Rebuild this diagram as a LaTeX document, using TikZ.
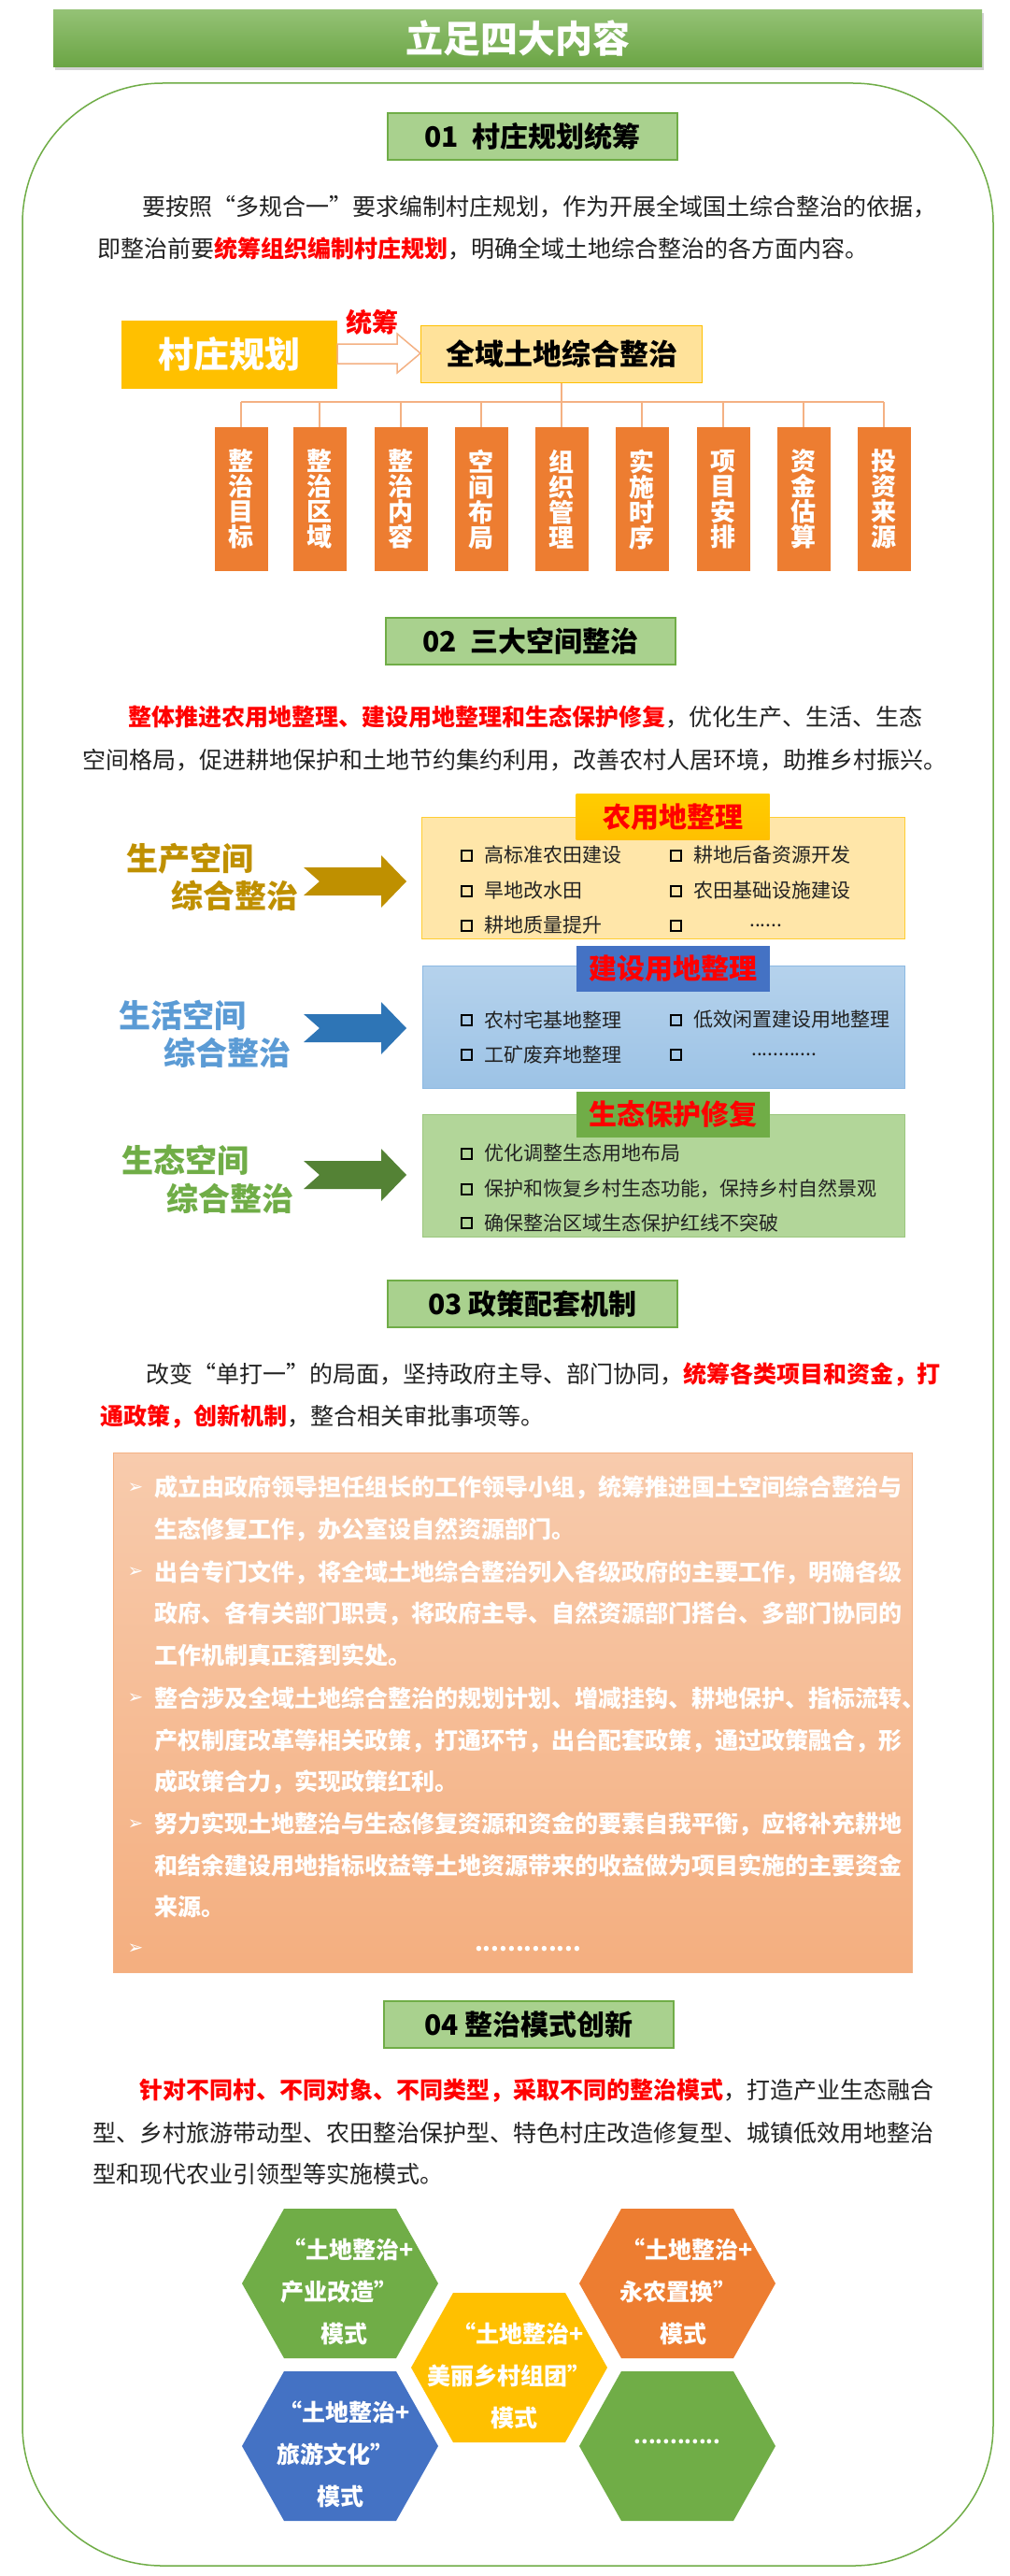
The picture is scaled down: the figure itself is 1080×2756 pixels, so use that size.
\documentclass[tikz,border=0pt]{standalone}
\usepackage{fontspec}
\setmainfont{Noto Sans CJK SC}
\newfontfamily\dejavu{DejaVu Sans}
\usetikzlibrary{positioning,shadows}
\definecolor{tgreen}{HTML}{70AD47}
\definecolor{hgreen}{HTML}{A9D18E}
\definecolor{gold}{HTML}{FFC000}
\definecolor{lgold}{HTML}{FFE29A}
\definecolor{orng}{HTML}{ED7D31}
\definecolor{lorng}{HTML}{F4B183}
\definecolor{dgold}{HTML}{BF9000}
\definecolor{lblue}{HTML}{5B9BD5}
\definecolor{dblue}{HTML}{2E75B6}
\definecolor{mblue}{HTML}{4472C4}
\definecolor{dgreen}{HTML}{548235}
\definecolor{txt}{HTML}{222222}
\newcommand{\fs}[1]{\fontsize{#1}{#1}\selectfont}
\newcommand{\dotsA}{\hspace{60pt}......}
\newcommand{\dotsB}{\hspace{62pt}............}
\newcommand{\dotsC}{\hspace{343pt}.............}
\tikzset{%
    header/.style={draw=tgreen,line width=1.2pt,fill=hgreen,minimum width=310,minimum height=50,font=\fs{30}\bfseries},
    para/.style={anchor=west,inner sep=0pt,text=txt,font=\fs{25}},
    kbox/.style={fill=orng,minimum width=57,minimum height=154,inner sep=0pt,text=white,align=center,font=\fs{27}\bfseries,anchor=north},
    tline/.style={draw=lorng,line width=1.2pt},
    item/.style={anchor=west,inner sep=0pt,font=\fs{21},text=txt},
    chk/.style={draw=black,line width=2pt,minimum size=11,inner sep=0pt,anchor=center},
    tab/.style={minimum width=207,minimum height=49,inner sep=0pt,text=red,font=\fs{30}\bfseries},
    side/.style={anchor=west,inner sep=0pt,font=\fs{34}\bfseries},
    pol/.style={anchor=west,inner sep=0pt,text=white,font=\fs{25}\bfseries},
    hex/.style={text=white,font=\fs{25}\bfseries,inner sep=0pt},
}
% hexagon: centre x, centre y, colour
\newcommand{\hexa}[3]{\fill[#3] (#1-105,#2) -- (#1-60,#2-80) -- (#1+60,#2-80) -- (#1+105,#2) -- (#1+60,#2+80) -- (#1-60,#2+80) -- cycle;}
\begin{document}
\begin{tikzpicture}[x=1pt,y=-1pt]
	\useasboundingbox[fill=white] (0,0) rectangle (1080,2756);
	
	%title and frame
	\draw[tgreen,line width=1.5pt,rounded corners=150] (24,89) rectangle (1063,2745);
	\shade[top color=tgreen!75,bottom color=tgreen!95!black,drop shadow={opacity=.35,shadow xshift=2pt,shadow yshift=-3pt}] (57,11) rectangle (1051,72);
	\node[text=white,font=\fs{40}\bfseries] (title) at (554,41) {立足四大内容};
	
	%%%%%%%%%%% 01
	\node[header] (h1) at (570,146) {01\enspace 村庄规划统筹};
	\node[para] (p11) at (152,221) {要按照“多规合一”要求编制村庄规划，作为开展全域国土综合整治的依据，};
	\node[para] (p12) at (104,266) {即整治前要{\bfseries\color{red}统筹组织编制村庄规划}，明确全域土地综合整治的各方面内容。};
	
	\node[fill=gold,minimum width=231,minimum height=73,text=white,font=\fs{38}\bfseries] (plan) at (245,379) {村庄规划};
	\node[fill=lgold,draw=gold,line width=1pt,minimum width=301,minimum height=61,font=\fs{31}\bfseries] (quan) at (601,379) {全域土地综合整治};
	\draw[lorng,fill=white,line width=1.5pt] (361,368) -- (425,368) -- (425,357) -- (450,378) -- (425,399) -- (425,389) -- (361,389) -- cycle;
	\node[text=red,font=\fs{28}\bfseries] (tc) at (398,345) {统筹};
	
	\coordinate (j) at (601,430);
	\draw[tline] (quan.south) -- (j);
	\foreach \i/\x/\t in {1/258/整\\治\\目\\标,2/342/整\\治\\区\\域,3/429/整\\治\\内\\容,4/515/空\\间\\布\\局,5/601/组\\织\\管\\理,6/687/实\\施\\时\\序,7/774/项\\目\\安\\排,8/860/资\\金\\估\\算,9/946/投\\资\\来\\源}{
		\node[kbox] (k\i) at (\x,457) {\t};
		\draw[tline] (\x,430) -- (k\i.north);
	}
	\draw[tline] (258,430) -- (946,430);
	
	%%%%%%%%%%% 02
	\node[header] (h2) at (568,686) {02\enspace 三大空间整治};
	\node[para] (p21) at (137,767) {{\bfseries\color{red}整体推进农用地整理、建设用地整理和生态保护修复}，优化生产、生活、生态};
	\node[para] (p22) at (88,813) {空间格局，促进耕地保护和土地节约集约利用，改善农村人居环境，助推乡村振兴。};
	
	\draw[gold!80,line width=1pt,fill=lgold!85] (451,874) rectangle (968,1004);
	\node[tab,top color=gold!80!yellow,bottom color=gold] (t1) at (720,874) {农用地整理};
	\draw[lblue!70,line width=1pt,top color=lblue!45,bottom color=lblue!60] (452,1033) rectangle (968,1164);
	\node[tab,fill=mblue] (t2) at (720,1036) {建设用地整理};
	\draw[tgreen!70,line width=1pt,fill=hgreen!90] (452,1192) rectangle (968,1323);
	\node[tab,fill=tgreen] (t3) at (720,1192) {生态保护修复};
	
	\foreach \x/\y/\t in {518/915/高标准农田建设,742/915/耕地后备资源开发,518/953/旱地改水田,742/953/农田基础设施建设,518/990/耕地质量提升,742/990/\dotsA,
		518/1091/农村宅基地整理,742/1091/低效闲置建设用地整理,518/1128/工矿废弃地整理,742/1128/\dotsB,
		518/1234/优化调整生态用地布局,518/1272/保护和恢复乡村生态功能，保持乡村自然景观,518/1308/确保整治区域生态保护红线不突破}{
		\node[chk] at (\x-19,\y) {};
		\node[item] at (\x,\y) {\t};
	}
	
	\node[side,text=dgold] (s1a) at (135,919) {生产空间};
	\node[side,text=dgold] (s1b) at (183,958) {综合整治};
	\node[side,text=lblue] (s2a) at (127,1086) {生活空间};
	\node[side,text=lblue] (s2b) at (175,1126) {综合整治};
	\node[side,text=tgreen] (s3a) at (130,1241) {生态空间};
	\node[side,text=tgreen] (s3b) at (178,1282) {综合整治};
	\foreach \y/\c in {943/dgold,1100/dblue,1257/dgreen}{
		\fill[\c] (325,\y-15) -- (408,\y-15) -- (408,\y-28) -- (435,\y) -- (408,\y+28) -- (408,\y+15) -- (325,\y+15) -- (342,\y) -- cycle;
	}
	
	%%%%%%%%%%% 03
	\node[header] (h3) at (570,1395) {03 政策配套机制};
	\node[para] (p31) at (156,1471) {改变“单打一”的局面，坚持政府主导、部门协同，{\bfseries\color{red}统筹各类项目和资金，打}};
	\node[para] (p32) at (107,1516) {{\bfseries\color{red}通政策，创新机制}，整合相关审批事项等。};
	
	\draw[lorng,line width=1pt,top color=orng!40,bottom color=orng!62] (121,1554) rectangle (976,2110);
	\foreach \y in {1592,1682,1817,1952,2085}{
		\node[text=white,font=\dejavu\fs{20}] at (145,\y) {➢};
	}
	\foreach \y/\t in {1592/成立由政府领导担任组长的工作领导小组，统筹推进国土空间综合整治与,1637/生态修复工作，办公室设自然资源部门。,
		1682/出台专门文件，将全域土地综合整治列入各级政府的主要工作，明确各级,1726/政府、各有关部门职责，将政府主导、自然资源部门搭台、多部门协同的,1771/工作机制真正落到实处。,
		1817/整合涉及全域土地综合整治的规划计划、增减挂钩、耕地保护、指标流转、,1862/产权制度改革等相关政策，打通环节，出台配套政策，通过政策融合，形,1907/成政策合力，实现政策红利。,
		1952/努力实现土地整治与生态修复资源和资金的要素自我平衡，应将补充耕地,1996/和结余建设用地指标收益等土地资源带来的收益做为项目实施的主要资金,2040/来源。,2085/\dotsC}{
		\node[pol] at (165,\y) {\t};
	}
	
	%%%%%%%%%%% 04
	\node[header] (h4) at (566,2166) {04 整治模式创新};
	\node[para] (p41) at (149,2237) {{\bfseries\color{red}针对不同村、不同对象、不同类型，采取不同的整治模式}，打造产业生态融合};
	\node[para] (p42) at (99,2282) {型、乡村旅游带动型、农田整治保护型、特色村庄改造修复型、城镇低效用地整治};
	\node[para] (p43) at (99,2326) {型和现代农业引领型等实施模式。};
	
	\hexa{364}{2443}{tgreen}
	\hexa{725}{2443}{orng}
	\hexa{545}{2533}{gold}
	\hexa{364}{2617}{mblue}
	\hexa{725}{2617}{tgreen}
	\foreach \n/\x/\y/\b in {m1/368/2443/产业改造”,m2/731/2443/永农置换”,m3/550/2533/美丽乡村组团”,m4/364/2617/旅游文化”}{
		\node[hex] (\n a) at (\x+5,\y-36) {“土地整治+};
		\node[hex] (\n b) at (\x-5,\y+9) {\b};
		\node[hex] (\n c) at (\x,\y+54) {模式};
	}
	\node[hex,font=\fs{22}\bfseries] (m5) at (725,2612) {............};
	
\end{tikzpicture}
\end{document}
